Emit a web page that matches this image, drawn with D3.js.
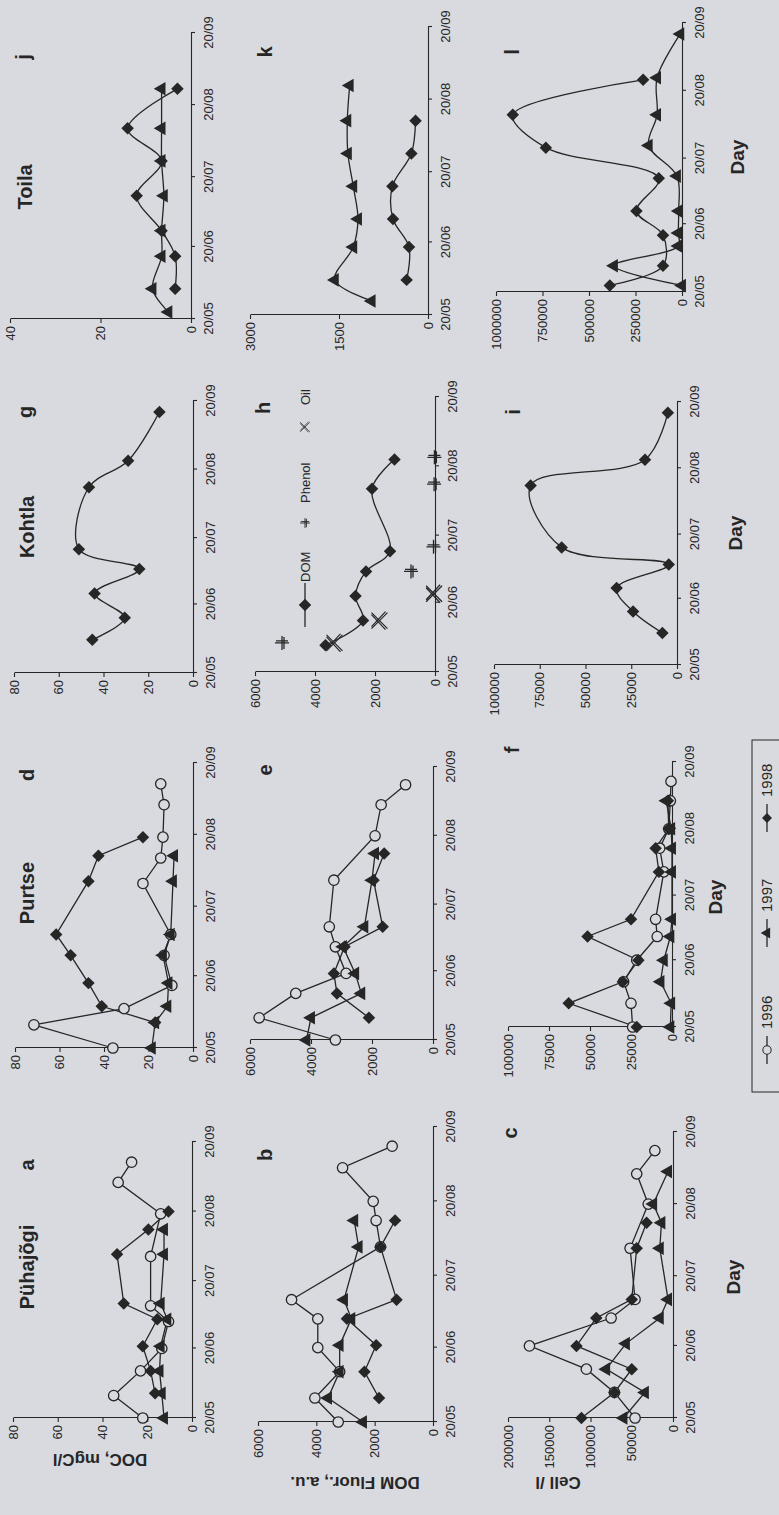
<!DOCTYPE html>
<html>
<head>
<meta charset="utf-8">
<script src="https://cdn.jsdelivr.net/npm/d3@7"></script>
<style>
  html, body { margin: 0; padding: 0; background: #d8dadf; }
  svg { display: block; font-family: "Liberation Sans", Arial, sans-serif; }
</style>
</head>
<body>
<svg id="fig" width="779" height="1515"></svg>
<script>
// --- date axis + value ticks ---
const dateTicks = ["20/05", "20/06", "20/07", "20/08", "20/09"];
const docTicks = [0, 20, 40, 60, 80];
const docTicksToila = [0, 20, 40];
const domTicks = [0, 2000, 4000, 6000];
const domTicksToila = [0, 1500, 3000];
const cellTicksPuha = [0, 50000, 100000, 150000, 200000];
const cellTicks = [0, 25000, 50000, 75000, 100000];
const cellTicksToila = [0, 250000, 500000, 750000, 1000000];

const rivers = ["Pühajõgi", "Purtse", "Kohtla", "Toila"];
const years = ["1996", "1997", "1998"];

// --- Pühajõgi ---
const puhaDoc96 = [["20/05",22],["30/05",35],["10/06",23],["20/06",13.5],["02/07",10.5],["09/07",18.5],["31/07",18.5],["19/08",14],["02/09",33],["11/09",27]];
const puhaDoc97 = [["20/05",12.5],["31/05",13.5],["10/06",14.5],["21/06",14],["03/07",11],["10/07",14],["01/08",12.5],["12/08",12.5]];
const puhaDoc98 = [["31/05",16.5],["10/06",18.5],["21/06",22],["03/07",15.5],["10/07",30.5],["01/08",33.5],["12/08",19.5],["20/08",10.5]];

const puhaDom96 = [["20/05",3250],["30/05",4050],["10/06",3200],["20/06",3950],["02/07",3950],["10/07",4850],["01/08",1800],["12/08",1950],["20/08",2050],["03/09",3100],["12/09",1400]];
const puhaDom97 = [["20/05",2400],["30/05",3600],["10/06",3200],["21/06",3200],["02/07",2800],["10/07",3050],["01/08",2550],["12/08",2700]];
const puhaDom98 = [["30/05",1850],["10/06",2350],["21/06",1950],["02/07",2950],["10/07",1250],["01/08",1800],["12/08",1300]];

const puhaCell96 = [["20/05",46000],["31/05",71000],["10/06",105000],["20/06",174000],["02/07",75000],["10/07",46000],["01/08",52000],["20/08",30000],["02/09",44000],["12/09",22000]];
const puhaCell97 = [["20/05",60000],["31/05",34000],["10/06",81000],["21/06",57000],["02/07",16000],["10/07",6000],["01/08",16000],["12/08",14000],["20/08",24000],["03/09",6000]];
const puhaCell98 = [["20/05",111000],["31/05",71000],["10/06",50000],["20/06",117000],["02/07",93000],["10/07",50000],["01/08",44000],["12/08",32000]];

// --- Purtse ---
const purDoc96 = [["20/05",36],["30/05",71.5],["06/06",31],["16/06",9.5],["29/06",13],["08/07",10],["30/07",22.5],["10/08",14.5],["19/08",13.5],["02/09",13],["11/09",14.5]];
const purDoc97 = [["20/05",18.5],["31/05",17],["07/06",11.5],["17/06",11],["29/06",13.5],["08/07",10],["31/07",9],["11/08",8.5]];
const purDoc98 = [["31/05",17],["07/06",41],["17/06",47],["29/06",55],["08/07",61.5],["31/07",47],["11/08",42.5],["19/08",22.5]];

const purDom96 = [["20/05",3200],["30/05",5700],["10/06",4500],["19/06",2850],["01/07",3200],["10/07",3400],["31/07",3250],["20/08",1900],["03/09",1700],["12/09",900]];
const purDom97 = [["20/05",4150],["30/05",4000],["10/06",2350],["19/06",2550],["01/07",2950],["10/07",2250],["31/07",2000],["12/08",1900]];
const purDom98 = [["30/05",2100],["10/06",3150],["19/06",3250],["01/07",2900],["10/07",1650],["31/07",1950],["12/08",1600]];

const purCell96 = [["20/05",24000],["31/05",25000],["10/06",29500],["20/06",21500],["01/07",9000],["09/07",10000],["31/07",5000],["11/08",7500],["20/08",2000],["02/09",1000],["11/09",600]];
const purCell97 = [["20/05",1000],["31/05",500],["10/06",7000],["20/06",5000],["01/07",1000],["09/07",0],["31/07",0],["11/08",0],["20/08",500],["02/09",3500]];
const purCell98 = [["20/05",21500],["31/05",63000],["10/06",30000],["20/06",20500],["01/07",51500],["09/07",25000],["31/07",8000],["11/08",10000],["20/08",2000],["02/09",2500]];

// --- Kohtla ---
const kohDoc = [["04/06",45],["14/06",30.5],["25/06",44],["06/07",24],["15/07",51],["12/08",46.5],["24/08",29],["15/09",15]];
const kohDom = [["01/06",3650],["12/06",2400],["23/06",2650],["04/07",2300],["13/07",1500],["10/08",2100],["23/08",1350]];
const kohPhenol = [["02/06",5100],["04/07",800],["15/07",50],["12/08",30],["24/08",20]];
const kohOil = [["02/06",3350],["12/06",1850],["24/06",30]];
const kohCell = [["04/06",8000],["14/06",24000],["25/06",33000],["06/07",4500],["14/07",63000],["12/08",80000],["24/08",17500],["15/09",5000]];

// --- Toila ---
const toiDoc97 = [["23/05",5],["02/06",8.5],["16/06",6.5],["27/06",6.5],["12/07",6],["27/07",6.5],["10/08",6.5],["27/08",6.5]];
const toiDoc98 = [["02/06",3.5],["16/06",3.5],["27/06",6.5],["12/07",12],["27/07",6.5],["10/08",14],["27/08",3]];
const toiDom97 = [["26/05",950],["04/06",1570],["18/06",1260],["30/06",1180],["14/07",1260],["28/07",1350],["11/08",1360],["26/08",1320]];
const toiDom98 = [["04/06",360],["18/06",320],["30/06",590],["14/07",600],["28/07",280],["11/08",210]];
const toiCell97 = [["23/05",0],["01/06",366000],["10/06",20000],["16/06",20000],["26/06",18000],["12/07",27000],["26/07",179000],["09/08",134000],["26/08",134000],["15/09",9000]];
const toiCell98 = [["23/05",388000],["01/06",102000],["15/06",102000],["26/06",245000],["11/07",125000],["25/07",732000],["09/08",910000],["25/08",209000]];

// ---------------------------------------------------------------
const ink = "#262626";
const bg = "#d8dadf";
const parse = d3.timeParse("%d/%m");
const fmt = d3.timeFormat("%d/%m");

const svg = d3.select("#fig");
svg.append("rect").attr("width", 779).attr("height", 1515).attr("fill", bg);

// the printed figure is landscape, turned a quarter turn on the page
const root = svg.append("g").attr("transform", "translate(0,1515) rotate(-90)");

// box = [x at 20/05, x at 20/09, y at top tick, y at 0], lab = letter position
const panels = [
  {box: [97, 373, 13, 192], ticks: docTicks, lab: ["a", 350, 27],
   series: [{pts: puhaDoc96, m: "circle"}, {pts: puhaDoc97, m: "tri"}, {pts: puhaDoc98, m: "dia"}]},
  {box: [93, 388, 258, 433], ticks: domTicks, lab: ["b", 360, 265],
   series: [{pts: puhaDom96, m: "circle"}, {pts: puhaDom97, m: "tri"}, {pts: puhaDom98, m: "dia"}]},
  {box: [97, 383, 508, 673], ticks: cellTicksPuha, lab: ["c", 382, 510],
   series: [{pts: puhaCell96, m: "circle"}, {pts: puhaCell97, m: "tri"}, {pts: puhaCell98, m: "dia"}]},
  {box: [467, 752, 15, 193], ticks: docTicks, lab: ["d", 740, 27],
   series: [{pts: purDoc96, m: "circle"}, {pts: purDoc97, m: "tri"}, {pts: purDoc98, m: "dia"}]},
  {box: [475, 748, 250, 433], ticks: domTicks, lab: ["e", 745, 265],
   series: [{pts: purDom96, m: "circle"}, {pts: purDom97, m: "tri"}, {pts: purDom98, m: "dia"}]},
  {box: [488, 753, 508, 672], ticks: cellTicks, lab: ["f", 765, 512],
   series: [{pts: purCell96, m: "circle"}, {pts: purCell97, m: "tri"}, {pts: purCell98, m: "dia"}]},
  {box: [842, 1114, 14, 193], ticks: docTicks, lab: ["g", 1103, 25], smooth: true,
   series: [{pts: kohDoc, m: "dia"}]},
  {box: [843, 1118, 255, 435], ticks: domTicks, lab: ["h", 1107, 263], smooth: true,
   series: [{pts: kohDom, m: "dia"}, {pts: kohPhenol, m: "plus", noLine: true}, {pts: kohOil, m: "times", noLine: true}]},
  {box: [850, 1113, 494, 677], ticks: cellTicks, lab: ["i", 1103, 513], smooth: true,
   series: [{pts: kohCell, m: "dia"}]},
  {box: [1196, 1482, 10, 191], ticks: docTicksToila, lab: ["j", 1458, 23], smooth: true,
   series: [{pts: toiDoc97, m: "tri"}, {pts: toiDoc98, m: "dia"}]},
  {box: [1200, 1488, 250, 428], ticks: domTicksToila, lab: ["k", 1463, 265], smooth: true,
   series: [{pts: toiDom97, m: "tri"}, {pts: toiDom98, m: "dia"}]},
  {box: [1223, 1492, 496, 682], ticks: cellTicksToila, lab: ["l", 1463, 512], smooth: true,
   series: [{pts: toiCell97, m: "tri"}, {pts: toiCell98, m: "dia"}]}
];

function addMarker(sel, type) {
  if (type === "circle") {
    sel.append("circle").attr("r", 5.2).attr("fill", bg).attr("stroke", ink).attr("stroke-width", 1.3);
  } else if (type === "tri") {
    sel.append("path").attr("d", d3.symbol(d3.symbolTriangle, 80)()).attr("fill", ink);
  } else if (type === "dia") {
    sel.append("path").attr("d", d3.symbol(d3.symbolSquare, 78)()).attr("transform", "rotate(45)").attr("fill", ink);
  } else if (type === "plus") {
    sel.append("path").attr("d", "M-7,0H7M0,-7V7M-6,2H6M2,-6V6").attr("stroke", ink).attr("stroke-width", 1.3).attr("fill", "none");
  } else if (type === "times") {
    sel.append("path").attr("d", "M-8,-8L8,8M-8,8L8,-8M-6,-8L9,6M-9,6L6,-8").attr("stroke", ink).attr("stroke-width", 1.2).attr("fill", "none");
  }
}

function styleAxis(g) {
  g.attr("font-size", 13).attr("font-family", null);
  g.selectAll("path, line").attr("stroke", ink).attr("stroke-width", 1.1);
  g.selectAll("text").attr("fill", ink);
}

panels.forEach(p => {
  const [x0, x1, y0, y1] = p.box;
  const x = d3.scaleTime().domain([parse(dateTicks[0]), parse(dateTicks[dateTicks.length - 1])]).range([x0, x1]);
  const y = d3.scaleLinear().domain([0, d3.max(p.ticks)]).range([y1, y0]);
  const g = root.append("g");

  g.append("g").attr("transform", `translate(0,${y1})`)
    .call(d3.axisBottom(x).tickValues(dateTicks.map(parse)).tickFormat(fmt).tickSize(4).tickSizeOuter(0).tickPadding(9))
    .call(styleAxis);
  g.append("g").attr("transform", `translate(${x0},0)`)
    .call(d3.axisLeft(y).tickValues(p.ticks).tickFormat(d3.format("d")).tickSize(4).tickSizeOuter(0).tickPadding(3))
    .call(styleAxis);

  const line = d3.line()
    .x(d => x(parse(d[0])))
    .y(d => y(d[1]))
    .curve(p.smooth ? d3.curveCatmullRom.alpha(0.5) : d3.curveLinear);

  p.series.forEach(s => {
    if (!s.noLine) {
      g.append("path").datum(s.pts).attr("d", line)
        .attr("fill", "none").attr("stroke", ink).attr("stroke-width", 1.3);
    }
  });
  p.series.forEach(s => {
    g.selectAll(null).data(s.pts).enter().append("g")
      .attr("transform", d => `translate(${x(parse(d[0]))},${y(d[1])})`)
      .each(function () { addMarker(d3.select(this), s.m); });
  });

  root.append("text").attr("x", p.lab[1]).attr("y", p.lab[2]).attr("dy", "0.35em")
    .attr("text-anchor", "middle").attr("font-size", 20).attr("font-weight", "bold")
    .attr("fill", ink).text(p.lab[0]);
});

// river names above columns
const riverPos = [[248, 27], [622, 27], [988, 27], [1328, 25]];
rivers.forEach((r, i) => {
  root.append("text").attr("x", riverPos[i][0]).attr("y", riverPos[i][1]).attr("dy", "0.35em")
    .attr("text-anchor", "middle").attr("font-size", 20).attr("font-weight", "bold")
    .attr("fill", ink).text(r);
});

// row titles
const rowTitles = [["DOC, mgC/l", 55, 100], ["DOM Fluor., a.u.", 32, 355], ["Cell /l", 32, 558]];
rowTitles.forEach(t => {
  root.append("text").attr("transform", `translate(${t[1]},${t[2]}) rotate(-90)`).attr("dy", "0.35em")
    .attr("text-anchor", "middle").attr("font-size", 17).attr("font-weight", "bold")
    .attr("fill", ink).text(t[0]);
});

// "Day" under the bottom row
[[238, 733], [618, 715], [982, 735], [1358, 737]].forEach(d => {
  root.append("text").attr("x", d[0]).attr("y", d[1]).attr("dy", "0.35em")
    .attr("text-anchor", "middle").attr("font-size", 19).attr("font-weight", "bold")
    .attr("fill", ink).text("Day");
});

// legend inside panel h
const hLeg = root.append("g").attr("font-size", 13).attr("fill", ink);
hLeg.append("line").attr("x1", 888).attr("x2", 932).attr("y1", 305).attr("y2", 305).attr("stroke", ink).attr("stroke-width", 1.3);
addMarker(hLeg.append("g").attr("transform", "translate(910,305)"), "dia");
hLeg.append("text").attr("x", 933).attr("y", 305).attr("dy", "0.35em").text("DOM");
addMarker(hLeg.append("g").attr("transform", "translate(992,305) scale(0.7)"), "plus");
hLeg.append("text").attr("x", 1012).attr("y", 305).attr("dy", "0.35em").text("Phenol");
addMarker(hLeg.append("g").attr("transform", "translate(1088,305) scale(0.6)"), "times");
hLeg.append("text").attr("x", 1110).attr("y", 305).attr("dy", "0.35em").text("Oil");

// year legend at the bottom
const yLeg = root.append("g");
yLeg.append("rect").attr("x", 423).attr("y", 752).attr("width", 352).attr("height", 50)
  .attr("fill", "none").attr("stroke", ink).attr("stroke-width", 1);
const legMarks = ["circle", "tri", "dia"];
const legX = [465, 582, 697];
years.forEach((yr, i) => {
  const cx = legX[i];
  yLeg.append("line").attr("x1", cx - 14).attr("x2", cx + 14).attr("y1", 767).attr("y2", 767)
    .attr("stroke", ink).attr("stroke-width", 1.3);
  const m = yLeg.append("g").attr("transform", `translate(${cx},767) scale(0.8)`);
  addMarker(m, legMarks[i]);
  yLeg.append("text").attr("x", cx + 21).attr("y", 767).attr("dy", "0.35em")
    .attr("font-size", 15).attr("fill", ink).text(yr);
});
</script>
</body>
</html>
